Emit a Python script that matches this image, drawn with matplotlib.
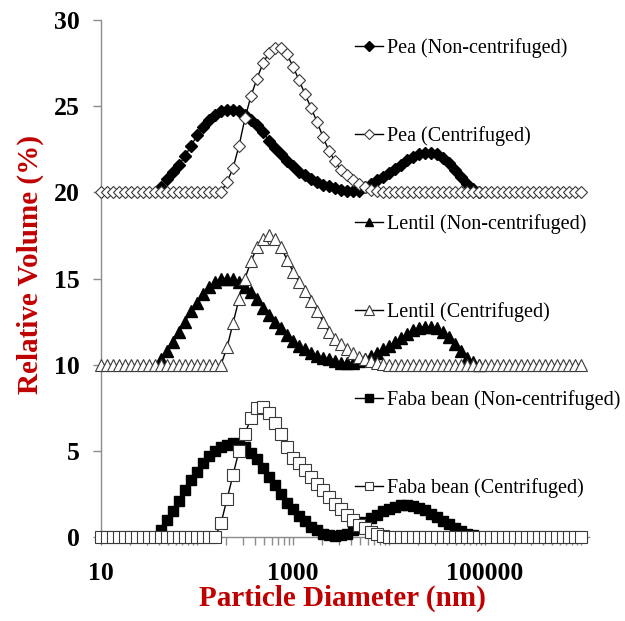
import numpy as np
import matplotlib
matplotlib.use("Agg")
import matplotlib.pyplot as plt
from matplotlib.ticker import FixedLocator, LogLocator, NullFormatter, FixedFormatter

# size classes (nm), 16 per decade from 10 nm to 1 mm
size_nm = [10.0, 11.55, 13.34, 15.40, 17.78, 20.54, 23.71, 27.38, 31.62, 36.52, 42.17, 48.70, 56.23, 64.94, 74.99, 86.60,
           100.0, 115.5, 133.4, 154.0, 177.8, 205.4, 237.1, 273.8, 316.2, 365.2, 421.7, 487.0, 562.3, 649.4, 749.9, 866.0,
           1000.0, 1155.0, 1334.0, 1540.0, 1778.0, 2054.0, 2371.0, 2738.0, 3162.0, 3652.0, 4217.0, 4870.0, 5623.0, 6494.0, 7499.0, 8660.0,
           10000.0, 11550.0, 13340.0, 15400.0, 17780.0, 20540.0, 23710.0, 27380.0, 31620.0, 36520.0, 42170.0, 48700.0, 56230.0, 64940.0, 74990.0, 86600.0,
           100000.0, 115500.0, 133400.0, 154000.0, 177800.0, 205400.0, 237100.0, 273800.0, 316200.0, 365200.0, 421700.0, 487000.0, 562300.0, 649400.0, 749900.0, 866000.0,
           1000000.0]
nc_size_nm = size_nm[10:64]   # non-centrifuged samples only cover these classes

# relative volume (%), non-centrifuged
pea_nc = [0.3, 0.8, 1.2, 1.6, 2.1, 2.7, 3.3, 3.8, 4.2, 4.5, 4.7, 4.8, 4.8, 4.7, 4.5, 4.2, 3.9, 3.5, 3.0, 2.6,
          2.2, 1.8, 1.5, 1.2, 1.0, 0.8, 0.6, 0.45, 0.35, 0.25, 0.15, 0.1, 0.05, 0.1, 0.3, 0.5, 0.7, 0.9, 1.1, 1.35,
          1.6, 1.85, 2.05, 2.2, 2.3, 2.3, 2.2, 2.0, 1.7, 1.3, 0.9, 0.5, 0.2, 0.0]
lentil_nc = [0.3, 0.8, 1.3, 1.9, 2.5, 3.1, 3.6, 4.1, 4.5, 4.8, 5.0, 5.0, 5.0, 4.8, 4.5, 4.2, 3.8, 3.3, 2.9, 2.5,
             2.1, 1.7, 1.4, 1.1, 0.9, 0.7, 0.5, 0.4, 0.3, 0.2, 0.1, 0.1, 0.1, 0.2, 0.35, 0.5, 0.7, 0.9, 1.1, 1.3,
             1.55, 1.8, 2.0, 2.15, 2.2, 2.2, 2.1, 1.9, 1.6, 1.2, 0.8, 0.4, 0.15, 0.0]
faba_nc = [0.4, 1.0, 1.5, 2.1, 2.7, 3.3, 3.8, 4.3, 4.7, 5.0, 5.2, 5.35, 5.45, 5.4, 5.2, 4.9, 4.5, 4.0, 3.5, 3.0,
           2.5, 2.0, 1.6, 1.2, 0.9, 0.6, 0.4, 0.2, 0.1, 0.05, 0.1, 0.2, 0.4, 0.6, 0.85, 1.1, 1.3, 1.5, 1.65, 1.75,
           1.85, 1.85, 1.8, 1.7, 1.55, 1.35, 1.15, 0.95, 0.75, 0.55, 0.35, 0.2, 0.1, 0.0]

# relative volume (%), centrifuged
pea_c = [0.0] * 21 + [0.6, 1.4, 2.7, 4.3, 5.6, 6.6, 7.5, 8.1, 8.4, 8.4, 8.0, 7.3, 6.5, 5.7, 4.9, 4.1, 3.2, 2.4,
                      1.8, 1.3, 1.0, 0.7, 0.5, 0.3, 0.15, 0.05] + [0.0] * 34
lentil_c = [0.0] * 21 + [1.0, 2.4, 3.8, 5.0, 6.0, 6.8, 7.3, 7.5, 7.3, 6.8, 6.1, 5.4, 4.8, 4.3, 3.7, 3.1, 2.5, 1.9,
                         1.5, 1.2, 0.9, 0.65, 0.45, 0.3, 0.2, 0.1, 0.05] + [0.0] * 33
faba_c = [0.0] * 20 + [0.8, 2.2, 3.6, 5.0, 6.0, 6.9, 7.5, 7.55, 7.2, 6.6, 6.0, 5.2, 4.6, 4.3, 3.9, 3.5, 3.1, 2.7,
                       2.3, 1.9, 1.6, 1.3, 1.0, 0.7, 0.5, 0.3, 0.15, 0.05] + [0.0] * 33

# curves are stacked: pea +20, lentil +10, faba +0
offsets = {'pea': 20, 'lentil': 10, 'faba': 0}

red = '#C00000'
edge = '#3a3a3a'

fig = plt.figure(figsize=(6.25, 6.21), dpi=100)
ax = fig.add_axes([101/625, 84/621, 488/625, 517/621])

common = dict(ls='-', color='black', lw=1, zorder=3, clip_on=False)
ax.plot(nc_size_nm, np.array(pea_nc) + offsets['pea'], marker='D', ms=6, mfc='black', mec='black',
        label='Pea (Non-centrifuged)', **common)
ax.plot(size_nm, np.array(pea_c) + offsets['pea'], marker='D', ms=6, mfc='white', mec=edge, mew=0.8,
        label='Pea (Centrifuged)', **common)
ax.plot(nc_size_nm, np.array(lentil_nc) + offsets['lentil'], marker='^', ms=8, mfc='black', mec='black',
        label='Lentil (Non-centrifuged)', **common)
ax.plot(size_nm, np.array(lentil_c) + offsets['lentil'], marker='^', ms=8.5, mfc='white', mec=edge, mew=0.8,
        label='Lentil (Centrifuged)', **common)
ax.plot(nc_size_nm, np.array(faba_nc) + offsets['faba'], marker='s', ms=7, mfc='black', mec='black',
        label='Faba bean (Non-centrifuged)', **common)
ax.plot(size_nm, np.array(faba_c) + offsets['faba'], marker='s', ms=8, mfc='white', mec=edge, mew=0.8,
        label='Faba bean (Centrifuged)', **common)

ax.set_xscale('log')
ax.set_xlim(10, 10**6.083)
ax.set_ylim(0, 30)

ax.xaxis.set_major_locator(FixedLocator([10, 1000, 100000]))
ax.xaxis.set_major_formatter(FixedFormatter(['10', '1000', '100000']))
ax.xaxis.set_minor_locator(LogLocator(base=10, subs=np.arange(1, 10), numticks=50))
ax.xaxis.set_minor_formatter(NullFormatter())
ax.set_yticks([0, 5, 10, 15, 20, 25, 30])

for s in ['top', 'right']:
    ax.spines[s].set_visible(False)
for s in ['left', 'bottom']:
    ax.spines[s].set_color('#8c8c8c')
    ax.spines[s].set_linewidth(1)

tick_font = {'family': 'Liberation Serif', 'weight': 'bold', 'size': 18.5}
ax.tick_params(axis='both', which='both', direction='out', color='#8c8c8c', width=1)
ax.tick_params(axis='y', which='major', length=6, pad=9)
ax.tick_params(axis='x', which='both', length=6, pad=12)
for lab in ax.get_xticklabels() + ax.get_yticklabels():
    lab.set_fontproperties(tick_font)

fig.text(342/625, 1 - 598/621, 'Particle Diameter (nm)', color=red, ha='center', va='center',
         family='Liberation Serif', weight='bold', size=21)
fig.text(30/625, 1 - 264/621, 'Relative Volume (%)', color=red, ha='center', va='center',
         rotation=90, family='Liberation Serif', weight='bold', size=21)

leg = ax.legend(loc='upper left', bbox_to_anchor=(355/625, 1 - 38/621), bbox_transform=fig.transFigure,
                frameon=False, borderaxespad=0, borderpad=0, handlelength=1.4, handletextpad=0.2,
                labelspacing=3.38, markerscale=0.8, prop={'family': 'Liberation Serif', 'size': 14.5})

fig.savefig('out.png', dpi=100)
